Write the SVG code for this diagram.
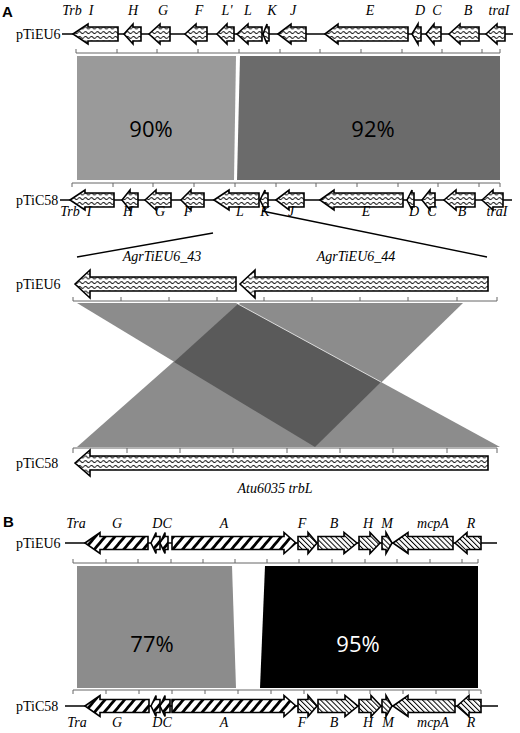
<svg xmlns="http://www.w3.org/2000/svg" width="520" height="733" viewBox="0 0 520 733">
<defs>
<pattern id="zig" patternUnits="userSpaceOnUse" width="6" height="4.7" y="1">
<rect width="6" height="4.7" fill="#fff"/>
<path d="M0,2.35 Q1.5,0.4 3,2.35 T6,2.35" fill="none" stroke="#000" stroke-width="1"/>
</pattern>
<pattern id="thick" patternUnits="userSpaceOnUse" width="7.5" height="10" patternTransform="rotate(40)">
<rect width="7.5" height="10" fill="#fff"/>
<rect width="2.8" height="10" fill="#000"/>
</pattern>
<pattern id="thin" patternUnits="userSpaceOnUse" width="3.6" height="10" patternTransform="rotate(-45)">
<rect width="3.6" height="10" fill="#fff"/>
<rect width="1" height="10" fill="#000"/>
</pattern>
</defs>
<style>
.bb{stroke:#000;stroke-width:1.3;fill:none}
.g{stroke:#000;stroke-width:1.6;stroke-linejoin:miter}
.z{fill:url(#zig)}
.tk{fill:url(#thick)}
.tn{fill:url(#thin)}
.ru{stroke:#666;stroke-width:1;fill:none}
.lab{font-family:"Liberation Serif",serif;font-size:14px;fill:#000}
.gl{font-family:"Liberation Serif",serif;font-style:italic;font-size:14px;fill:#000;text-anchor:middle}
.pc{font-family:"Open Sans","DejaVu Sans",sans-serif;font-size:22px;text-anchor:middle}
.pn{font-family:"Liberation Sans",Arial,sans-serif;font-weight:bold;font-size:15px}
.cn{stroke:#000;stroke-width:1.4;fill:none}
</style>

<!-- comparison shading -->
<g id="shading">
<polygon points="77,56 236,56 234,180 77,180" fill="#9a9a9a"/>
<polygon points="240,56 500,56 500,180 237,180" fill="#6b6b6b"/>
<polygon points="77,303 236,303 500,447 315,447" fill="#8c8c8c"/>
<polygon points="240,303 463,303 315,447 77,447" fill="#8c8c8c"/>
<polygon points="238,304 381,382 315,447 174,362" fill="#5a5a5a"/>
<line x1="238" y1="304" x2="381" y2="382" stroke="#ddd" stroke-width="1"/>
<polygon points="77,566 232,566 236,688 77,688" fill="#8c8c8c"/>
<polygon points="265,566 478,566 478,688 260,688" fill="#000"/>
</g>

<g id="percent">
<text class="pc" x="151" y="137" fill="#000">90%</text>
<text class="pc" x="373" y="137" fill="#000">92%</text>
<text class="pc" x="152" y="652" fill="#000">77%</text>
<text class="pc" x="358" y="652" fill="#fff">95%</text>
</g>

<!-- rulers -->
<g id="rulers">
<path class="ru" d="M76,53H500M76,53V49M117,53V49M157,53V49M198,53V49M239,53V49M280,53V49M320,53V49M361,53V49M402,53V49M442,53V49M482,53V49M500,53V49"/>
<path class="ru" d="M72,183H500M72,183V187M113,183V187M153,183V187M194,183V187M235,183V187M276,183V187M316,183V187M357,183V187M398,183V187M438,183V187M479,183V187M500,183V187"/>
<path class="ru" d="M73,301H497M73,301V297M121,301V297M169,301V297M217,301V297M264,301V297M312,301V297M360,301V297M408,301V297M457,301V297M497,301V297"/>
<path class="ru" d="M73,448H497M73,448V453M127,448V453M180,448V453M233,448V453M287,448V453M340,448V453M393,448V453M447,448V453M497,448V453"/>
<path class="ru" d="M73,563H478M73,563V559M106,563V559M138,563V559M171,563V559M203,563V559M235,563V559M267,563V559M299,563V559M332,563V559M365,563V559M397,563V559M430,563V559M462,563V559M478,563V559"/>
<path class="ru" d="M73,690H481M73,690V694M106,690V694M139,690V694M172,690V694M205,690V694M238,690V694M271,690V694M304,690V694M337,690V694M370,690V694M403,690V694M436,690V694M469,690V694M481,690V694"/>
</g>

<!-- connectors -->
<g id="connectors">
<line class="cn" x1="213" y1="233" x2="77" y2="257"/>
<line class="cn" x1="262" y1="211" x2="487" y2="257"/>
</g>

<!-- Panel A, pTiEU6 -->
<g id="A-pTiEU6" transform="translate(0,34)">
<text class="lab" x="16" y="5">pTiEU6</text>
<line class="bb" x1="62" y1="0" x2="513" y2="0"/>
<g id="A1-I"><path class="g z" d="M73,0L88,-10V-7H118V7H88V10Z"/></g>
<g id="A1-H"><path class="g z" d="M124,0L133,-10V-7H141V7H133V10Z"/></g>
<g id="A1-G"><path class="g z" d="M149,0L160,-10V-7H170V7H160V10Z"/></g>
<g id="A1-F"><path class="g z" d="M185,0L196,-10V-7H207V7H196V10Z"/></g>
<g id="A1-Lp"><path class="g z" d="M217,0L227,-10V-7H234V7H227V10Z"/></g>
<g id="A1-L"><path class="g z" d="M237,0L248,-10V-7H262V7H248V10Z"/></g>
<g id="A1-K"><path class="g z" d="M263,0L267,-10V-7H269V7H267V10Z"/></g>
<g id="A1-J"><path class="g z" d="M278,0L291,-10V-7H306V7H291V10Z"/></g>
<g id="A1-E"><path class="g z" d="M325,0L338,-10V-7H408V7H338V10Z"/></g>
<g id="A1-D"><path class="g z" d="M412,0L418,-10V-7H421V7H418V10Z"/></g>
<g id="A1-C"><path class="g z" d="M426,0L434,-10V-7H441V7H434V10Z"/></g>
<g id="A1-B"><path class="g z" d="M449,0L460,-10V-7H479V7H460V10Z"/></g>
<g id="A1-traI"><path class="g z" d="M486,0L497,-10V-7H505V7H497V10Z"/></g>
<g transform="translate(0,-19)">
<text class="gl" x="72" y="0">Trb</text><text class="gl" x="91" y="0">I</text>
<text class="gl" x="133" y="0">H</text><text class="gl" x="163" y="0">G</text>
<text class="gl" x="199" y="0">F</text><text class="gl" x="227" y="0">L'</text>
<text class="gl" x="248" y="0">L</text><text class="gl" x="272" y="0">K</text>
<text class="gl" x="293" y="0">J</text><text class="gl" x="370" y="0">E</text>
<text class="gl" x="420" y="0">D</text><text class="gl" x="437" y="0">C</text>
<text class="gl" x="468" y="0">B</text><text class="gl" x="499" y="0">traI</text>
</g>
</g>

<!-- Panel A, pTiC58 -->
<g id="A-pTiC58" transform="translate(0,200)">
<text class="lab" x="16" y="5">pTiC58</text>
<line class="bb" x1="60" y1="0" x2="512" y2="0"/>
<g id="A2-I"><path class="g z" d="M70,0L85,-10V-7H114V7H85V10Z"/></g>
<g id="A2-H"><path class="g z" d="M122,0L130,-10V-7H138V7H130V10Z"/></g>
<g id="A2-G"><path class="g z" d="M145,0L156,-10V-7H171V7H156V10Z"/></g>
<g id="A2-F"><path class="g z" d="M181,0L191,-10V-7H204V7H191V10Z"/></g>
<g id="A2-L"><path class="g z" d="M214,0L229,-10V-7H259V7H229V10Z"/></g>
<g id="A2-K"><path class="g z" d="M260,0L265,-10V-7H268V7H265V10Z"/></g>
<g id="A2-J"><path class="g z" d="M276,0L289,-10V-7H304V7H289V10Z"/></g>
<g id="A2-E"><path class="g z" d="M320,0L334,-10V-7H403V7H334V10Z"/></g>
<g id="A2-D"><path class="g z" d="M407,0L412,-10V-7H414V7H412V10Z"/></g>
<g id="A2-C"><path class="g z" d="M422,0L430,-10V-7H435V7H430V10Z"/></g>
<g id="A2-B"><path class="g z" d="M444,0L456,-10V-7H475V7H456V10Z"/></g>
<g id="A2-traI"><path class="g z" d="M482,0L493,-10V-7H503V7H493V10Z"/></g>
<g transform="translate(0,16)">
<text class="gl" x="70" y="0">Trb</text><text class="gl" x="89" y="0">I</text>
<text class="gl" x="128" y="0">H</text><text class="gl" x="160" y="0">G</text>
<text class="gl" x="188" y="0">F</text><text class="gl" x="240" y="0">L</text>
<text class="gl" x="265" y="0">K</text><text class="gl" x="291" y="0">J</text>
<text class="gl" x="366" y="0">E</text><text class="gl" x="414" y="0">D</text>
<text class="gl" x="432" y="0">C</text><text class="gl" x="462" y="0">B</text>
<text class="gl" x="497" y="0">traI</text>
</g>
</g>

<!-- Detail pTiEU6 -->
<g id="D-pTiEU6" transform="translate(0,284)">
<text class="lab" x="16" y="5">pTiEU6</text>
<g id="AgrTiEU6_43"><path class="g z" d="M75,0L90,-14V-7H236V7H90V14Z"/><text class="gl" x="162" y="-23">AgrTiEU6_43</text></g>
<g id="AgrTiEU6_44"><path class="g z" d="M240,0L255,-14V-7H488V7H255V14Z"/><text class="gl" x="356" y="-23">AgrTiEU6_44</text></g>
</g>

<!-- Detail pTiC58 -->
<g id="D-pTiC58" transform="translate(0,463)">
<text class="lab" x="16" y="5">pTiC58</text>
<g id="Atu6035"><path class="g z" d="M75,0L90,-13V-7H488V7H90V13Z"/><text class="gl" x="275" y="30">Atu6035  trbL</text></g>
</g>

<!-- Panel B, pTiEU6 -->
<g id="B-pTiEU6" transform="translate(0,543)">
<text class="lab" x="16" y="5">pTiEU6</text>
<line class="bb" x1="65" y1="0" x2="497" y2="0"/>
<g id="B1-G"><path class="g tk" d="M85,0L100,-10.5V-6.5H148V6.5H100V10.5Z"/></g>
<g id="B1-D"><path class="g tk" d="M151,0L156,-10.5V-6.5H160V6.5H156V10.5Z"/></g>
<g id="B1-C"><path class="g tk" d="M160,0L165,-10.5V-6.5H168V6.5H165V10.5Z"/></g>
<g id="B1-A"><path class="g tk" d="M296,0L284,-10.5V-6.5H172V6.5H284V10.5Z"/></g>
<g id="B1-F"><path class="g tn" d="M317,0L308,-10.5V-6.5H298V6.5H308V10.5Z"/></g>
<g id="B1-B"><path class="g tn" d="M357,0L344,-10.5V-6.5H318V6.5H344V10.5Z"/></g>
<g id="B1-H"><path class="g tn" d="M380,0L370,-10.5V-6.5H359V6.5H370V10.5Z"/></g>
<g id="B1-M"><path class="g tn" d="M392,0L386,-10.5V-6.5H382V6.5H386V10.5Z"/></g>
<g id="B1-mcpA"><path class="g tn" d="M393,0L408,-10.5V-6.5H453V6.5H408V10.5Z"/></g>
<g id="B1-R"><path class="g tn" d="M455,0L467,-10.5V-6.5H481V6.5H467V10.5Z"/></g>
<g transform="translate(0,-15)">
<text class="gl" x="76" y="0">Tra</text><text class="gl" x="117" y="0">G</text>
<text class="gl" x="162" y="0">DC</text><text class="gl" x="224" y="0">A</text>
<text class="gl" x="302" y="0">F</text><text class="gl" x="334" y="0">B</text>
<text class="gl" x="368" y="0">H</text><text class="gl" x="387" y="0">M</text>
<text class="gl" x="433" y="0">mcpA</text><text class="gl" x="471" y="0">R</text>
</g>
</g>

<!-- Panel B, pTiC58 -->
<g id="B-pTiC58" transform="translate(0,706)">
<text class="lab" x="16" y="5">pTiC58</text>
<line class="bb" x1="65" y1="0" x2="498" y2="0"/>
<g id="B2-G"><path class="g tk" d="M85,0L100,-10.5V-6.5H149V6.5H100V10.5Z"/></g>
<g id="B2-D"><path class="g tk" d="M151,0L156,-10.5V-6.5H160V6.5H156V10.5Z"/></g>
<g id="B2-C"><path class="g tk" d="M160,0L165,-10.5V-6.5H170V6.5H165V10.5Z"/></g>
<g id="B2-A"><path class="g tk" d="M296,0L284,-10.5V-6.5H172V6.5H284V10.5Z"/></g>
<g id="B2-F"><path class="g tn" d="M317,0L308,-10.5V-6.5H298V6.5H308V10.5Z"/></g>
<g id="B2-B"><path class="g tn" d="M358,0L345,-10.5V-6.5H318V6.5H345V10.5Z"/></g>
<g id="B2-H"><path class="g tn" d="M381,0L371,-10.5V-6.5H359V6.5H371V10.5Z"/></g>
<g id="B2-M"><path class="g tn" d="M392,0L386,-10.5V-6.5H382V6.5H386V10.5Z"/></g>
<g id="B2-mcpA"><path class="g tn" d="M393,0L408,-10.5V-6.5H455V6.5H408V10.5Z"/></g>
<g id="B2-R"><path class="g tn" d="M457,0L469,-10.5V-6.5H481V6.5H469V10.5Z"/></g>
<g transform="translate(0,21)">
<text class="gl" x="77" y="0">Tra</text><text class="gl" x="117" y="0">G</text>
<text class="gl" x="162" y="0">DC</text><text class="gl" x="224" y="0">A</text>
<text class="gl" x="302" y="0">F</text><text class="gl" x="334" y="0">B</text>
<text class="gl" x="368" y="0">H</text><text class="gl" x="388" y="0">M</text>
<text class="gl" x="433" y="0">mcpA</text><text class="gl" x="471" y="0">R</text>
</g>
</g>

<g id="panel-labels">
<text class="pn" x="2" y="17">A</text>
<text class="pn" x="3" y="527">B</text>
</g>
</svg>
